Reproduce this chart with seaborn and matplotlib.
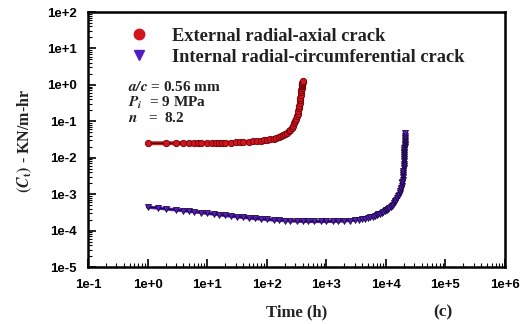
import numpy as np
import pandas as pd
import matplotlib
matplotlib.use("Agg")
import matplotlib.pyplot as plt
from matplotlib.lines import Line2D
from matplotlib.ticker import LogLocator, FixedLocator, NullFormatter
import seaborn as sns

# External radial-axial crack: time (h) and C(t) (kN/m-hr)
t_ext = [1, 2, 3, 4, 5, 6, 7, 8, 10, 12, 14, 16, 18, 20, 25, 30, 35, 40, 50, 60,
         70, 80, 90, 100, 115, 130, 145, 160, 175, 190, 205, 220, 235, 250, 265,
         280, 292, 304, 314, 324, 332, 340, 347, 353, 359, 364, 369, 374, 378,
         382, 386, 390, 393, 396, 398, 400, 402]
c_ext = [0.0250, 0.0250, 0.0251, 0.0251, 0.0252, 0.0252, 0.0253, 0.0253, 0.0254,
         0.0255, 0.0256, 0.0257, 0.0258, 0.0259, 0.0261, 0.0264, 0.0266, 0.0269,
         0.0274, 0.0280, 0.0286, 0.0292, 0.0298, 0.0305, 0.0318, 0.0332, 0.0348,
         0.0366, 0.0388, 0.0414, 0.0445, 0.0483, 0.0530, 0.0590, 0.0665, 0.0760,
         0.0870, 0.101, 0.117, 0.138, 0.160, 0.190, 0.225, 0.265, 0.318, 0.380,
         0.445, 0.53, 0.62, 0.72, 0.82, 0.92, 1.00, 1.08, 1.15, 1.22, 1.30]

# Internal radial-circumferential crack
t_int = [1, 1.5, 2, 3, 4, 5, 6, 8, 10, 13, 16, 20, 25, 32, 40, 50, 63, 80, 100,
         130, 160, 200, 250, 320, 400, 500, 630, 800, 1000, 1300, 1600, 2000,
         2500, 3000, 3500, 4000, 4500, 5000, 5500, 6000, 6500, 7000, 7500, 8000,
         8500, 9000, 9500, 10000, 10500, 11000, 11500, 12000, 12500, 13000,
         13500, 14000, 14500, 15000, 15500, 16000, 16500, 17000, 17400, 17800,
         18100, 18400, 18700, 18900, 19100, 19300, 19450, 19600, 19730, 19850,
         19950, 20050, 20130, 20200, 20270, 20330, 20390, 20440, 20490, 20540,
         20590, 20630, 20670, 20710, 20750, 20780, 20810, 20840]
c_int = [4.40e-4, 4.15e-4, 3.95e-4, 3.70e-4, 3.52e-4, 3.40e-4, 3.30e-4, 3.12e-4,
         2.98e-4, 2.83e-4, 2.72e-4, 2.60e-4, 2.50e-4, 2.40e-4, 2.31e-4, 2.23e-4,
         2.15e-4, 2.08e-4, 2.02e-4, 1.96e-4, 1.92e-4, 1.88e-4, 1.85e-4, 1.82e-4,
         1.80e-4, 1.79e-4, 1.78e-4, 1.78e-4, 1.79e-4, 1.80e-4, 1.82e-4, 1.85e-4,
         1.89e-4, 1.94e-4, 2.00e-4, 2.06e-4, 2.13e-4, 2.21e-4, 2.30e-4, 2.40e-4,
         2.51e-4, 2.63e-4, 2.77e-4, 2.90e-4, 3.05e-4, 3.20e-4, 3.38e-4, 3.57e-4,
         3.78e-4, 4.00e-4, 4.25e-4, 4.52e-4, 4.82e-4, 5.16e-4, 5.55e-4, 6.00e-4,
         6.52e-4, 7.12e-4, 7.82e-4, 8.64e-4, 9.60e-4, 1.08e-3, 1.20e-3, 1.36e-3,
         1.52e-3, 1.72e-3, 1.98e-3, 2.20e-3, 2.50e-3, 2.90e-3, 3.30e-3, 3.80e-3,
         4.40e-3, 5.10e-3, 5.90e-3, 6.90e-3, 7.90e-3, 9.00e-3, 1.03e-2, 1.16e-2,
         1.31e-2, 1.45e-2, 1.62e-2, 1.80e-2, 2.00e-2, 2.20e-2, 2.45e-2, 2.75e-2,
         3.10e-2, 3.50e-2, 4.00e-2, 4.70e-2]

xtick_vals = [1e-1, 1e0, 1e1, 1e2, 1e3, 1e4, 1e5, 1e6]
xtick_labels = ["1e-1", "1e+0", "1e+1", "1e+2", "1e+3", "1e+4", "1e+5", "1e+6"]
ytick_vals = [1e-5, 1e-4, 1e-3, 1e-2, 1e-1, 1e0, 1e1, 1e2]
ytick_labels = ["1e-5", "1e-4", "1e-3", "1e-2", "1e-1", "1e+0", "1e+1", "1e+2"]

RED = "#d3141c"
PURPLE = "#561cc0"
INK = "#222222"

sns.set_theme(style="ticks")
plt.rcParams["font.family"] = ["Liberation Serif", "DejaVu Serif"]
plt.rcParams["mathtext.fontset"] = "stix"
plt.rcParams["text.color"] = "black"

fig = plt.figure(figsize=(5.22, 3.24), dpi=100)
ax = fig.add_axes([88 / 522, 1 - 267 / 324, (505 - 88) / 522, (267 - 12) / 324])

df_ext = pd.DataFrame({"t": t_ext, "c": c_ext})
df_int = pd.DataFrame({"t": t_int, "c": c_int})

# coloured band under each series, then the thin connecting line with markers
sns.lineplot(data=df_ext, x="t", y="c", ax=ax, sort=False, estimator=None,
             color=RED, linewidth=2.8)
sns.lineplot(data=df_ext, x="t", y="c", ax=ax, sort=False, estimator=None,
             color="#300000", linewidth=0.7, marker="o", markersize=4.6,
             markerfacecolor=RED, markeredgecolor="#6a0008", markeredgewidth=0.6)
sns.lineplot(data=df_int, x="t", y="c", ax=ax, sort=False, estimator=None,
             color=PURPLE, linewidth=2.4)
sns.lineplot(data=df_int, x="t", y="c", ax=ax, sort=False, estimator=None,
             color="#100020", linewidth=0.7, marker="v", markersize=4.4,
             markerfacecolor=PURPLE, markeredgecolor="#1a0840", markeredgewidth=0.6)

ax.set_xscale("log")
ax.set_yscale("log")
ax.set_xlim(1e-1, 1e6)
ax.set_ylim(1e-5, 1e2)

tick_font = dict(family="Liberation Sans", weight="bold", size=9.5, color=INK)
ax.xaxis.set_major_locator(FixedLocator(xtick_vals))
ax.set_xticklabels(xtick_labels, fontdict=tick_font)
ax.yaxis.set_major_locator(FixedLocator(ytick_vals))
ax.set_yticklabels(ytick_labels, fontdict=tick_font)
for axis in (ax.xaxis, ax.yaxis):
    axis.set_minor_locator(LogLocator(base=10, subs=np.arange(2, 10), numticks=20))
    axis.set_minor_formatter(NullFormatter())

ax.tick_params(which="both", direction="in", top=False, right=False, colors="black")
ax.tick_params(which="major", length=6, width=1.2)
ax.tick_params(axis="x", which="major", pad=9)
ax.tick_params(axis="y", which="major", pad=8)
ax.tick_params(which="minor", length=3, width=0.8)
for s in ax.spines.values():
    s.set_linewidth(1.8)
    s.set_color("black")

ax.set_xlabel("")
ax.set_ylabel("")
fig.text(297 / 522, 1 - 312 / 324, "Time (h)", ha="center", va="center",
         fontsize=12, weight="bold", color=INK)
fig.text(443 / 522, 1 - 312 / 324, "(c)", ha="center", va="center",
         fontsize=12.5, weight="bold", color=INK)
fig.text(25 / 522, 1 - 141 / 324, r"$\mathbf{(}\mathbfit{C}_\mathbf{t}\mathbf{)}$ - KN/m-hr",
         rotation=90, ha="center", va="center", fontsize=11.5, weight="bold",
         color=INK)

handles = [
    Line2D([], [], linestyle="none", marker="o", markersize=7.5, markerfacecolor=RED,
           markeredgecolor=RED),
    Line2D([], [], linestyle="none", marker="v", markersize=6.5,
           markerfacecolor=PURPLE, markeredgecolor=PURPLE),
]
leg = ax.legend(handles, ["External radial-axial crack",
                          "Internal radial-circumferential crack"],
                loc="upper left", bbox_to_anchor=(0.087, 0.967), frameon=False,
                handlelength=0.8, handletextpad=1.4, labelspacing=0.22,
                borderaxespad=0.0,
                prop=dict(family="Liberation Serif", weight="bold", size=13.2))
for txt in leg.get_texts():
    txt.set_color(INK)

ann = dict(transform=ax.transAxes, fontsize=11, weight="bold", va="center",
           color=INK)
ax.text(0.095, 0.705, r"$\mathbfit{a/c}$ = 0.56 mm", **ann)
ax.text(0.095, 0.645, r"$\mathbfit{P}_\mathbfit{i}$  = 9 MPa", **ann)
ax.text(0.095, 0.585, r"$\mathbfit{n}$   =  8.2", **ann)

fig.savefig("out.png", dpi=100)
